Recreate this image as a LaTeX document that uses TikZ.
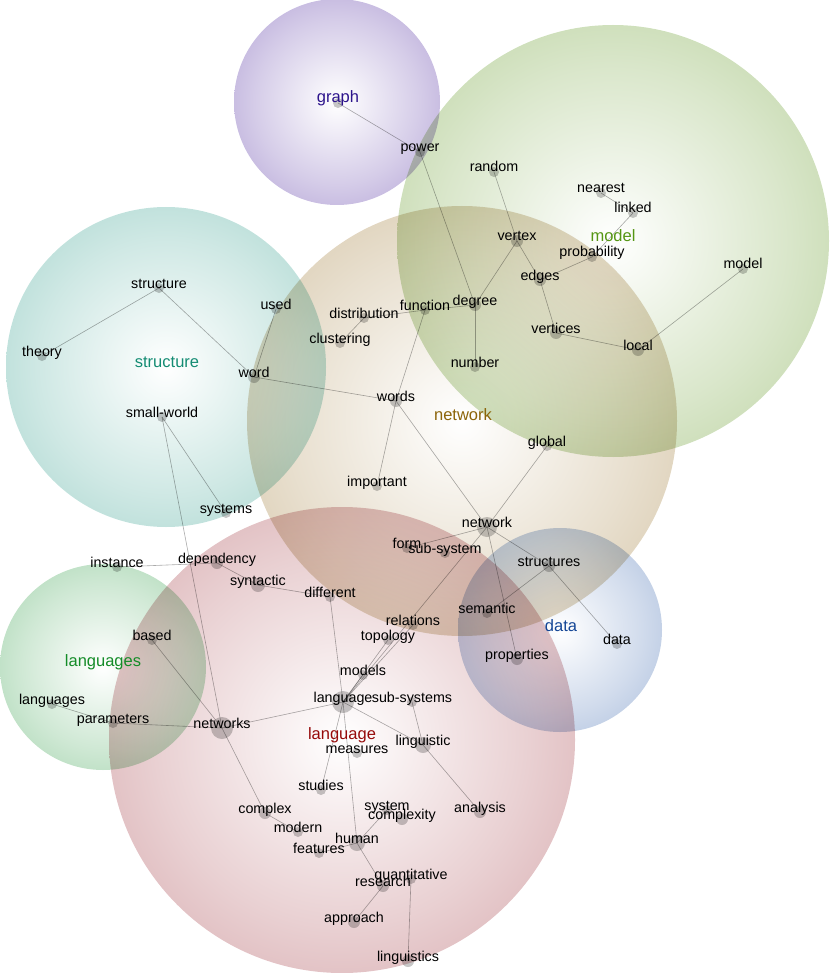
\documentclass[tikz,border=0pt]{standalone}
\usepackage{fontspec}
\setmainfont{Liberation Sans}
\definecolor{cgraph}{RGB}{150,128,198}
\definecolor{cmodel}{RGB}{162,194,125}
\definecolor{cstruct}{RGB}{135,198,188}
\definecolor{cnet}{RGB}{198,176,135}
\definecolor{cdata}{RGB}{140,166,208}
\definecolor{clangs}{RGB}{135,198,148}
\definecolor{clang}{RGB}{200,138,143}
\definecolor{tgraph}{RGB}{45,20,140}
\definecolor{tmodel}{RGB}{85,150,20}
\definecolor{tstruct}{RGB}{20,140,115}
\definecolor{tnet}{RGB}{140,100,10}
\definecolor{tdata}{RGB}{20,70,150}
\definecolor{tlangs}{RGB}{20,140,40}
\definecolor{tlang}{RGB}{150,10,10}
\pgfdeclareradialshading{shgraph}{\pgfpoint{0bp}{0bp}}{color(0bp)=(white); color(20bp)=(cgraph!40!white); color(40bp)=(cgraph!85!white); color(50bp)=(cgraph)}
\pgfdeclareradialshading{shmodel}{\pgfpoint{0bp}{0bp}}{color(0bp)=(white); color(20bp)=(cmodel!40!white); color(40bp)=(cmodel!85!white); color(50bp)=(cmodel)}
\pgfdeclareradialshading{shstruct}{\pgfpoint{0bp}{0bp}}{color(0bp)=(white); color(20bp)=(cstruct!40!white); color(40bp)=(cstruct!85!white); color(50bp)=(cstruct)}
\pgfdeclareradialshading{shnet}{\pgfpoint{0bp}{0bp}}{color(0bp)=(white); color(20bp)=(cnet!40!white); color(40bp)=(cnet!85!white); color(50bp)=(cnet)}
\pgfdeclareradialshading{shdata}{\pgfpoint{0bp}{0bp}}{color(0bp)=(white); color(20bp)=(cdata!40!white); color(40bp)=(cdata!85!white); color(50bp)=(cdata)}
\pgfdeclareradialshading{shlangs}{\pgfpoint{0bp}{0bp}}{color(0bp)=(white); color(20bp)=(clangs!40!white); color(40bp)=(clangs!85!white); color(50bp)=(clangs)}
\pgfdeclareradialshading{shlang}{\pgfpoint{0bp}{0bp}}{color(0bp)=(white); color(20bp)=(clang!40!white); color(40bp)=(clang!85!white); color(50bp)=(clang)}
\tikzset{
  blob/.style={blend mode=multiply},
  edge/.style={draw=black, draw opacity=0.33, line width=0.6pt},
  dot/.style={circle, inner sep=0pt, fill=black, fill opacity=0.22, draw=none},
  wl/.style={anchor=base, inner sep=0pt, text=black, font=\fontsize{14.3}{16}\selectfont},
  cat/.style={anchor=center, inner sep=0pt, font=\fontsize{16.5}{18}\selectfont}
}
\begin{document}
\begin{tikzpicture}[x=1pt,y=-1pt]
\useasboundingbox (0,0) rectangle (829,973);
% circles
\shade[blob, shading=shgraph] (337,102) circle [radius=103pt];
\shade[blob, shading=shmodel] (613,241) circle [radius=216pt];
\shade[blob, shading=shstruct] (166,367) circle [radius=160pt];
\shade[blob, shading=shnet] (462,421) circle [radius=215pt];
\shade[blob, shading=shdata] (560,630) circle [radius=102pt];
\shade[blob, shading=shlangs] (103,667) circle [radius=103pt];
\shade[blob, shading=shlang] (342,740) circle [radius=233pt];
% positions
\coordinate (graph) at (338,103);
\foreach \n/\x/\y/\r/\t in {
power/420/152/5/power, random/494/172/5/random, nearest/601/193/5/nearest,
linked/633/213/5/linked, vertex/517/241/6/vertex, probability/592/257/5/probability,
modelw/743/269/5/model, edges/540/280/6/edges, degree/475/305/6/degree,
function/425/310/5/function, distribution/364/318/5/distribution, clustering/340/343/5/clustering,
vertices/556/333/6/vertices, local/638/350/6/local, number/475/367/5/number,
structurew/159/288/5/structure, theory/42/356/5/theory, used/276/309/5/used,
word/254/377/6/word, words/396/401/6/words, smallworld/162/417/5/small-world,
important/377/486/5/important, systems/226/513/5/systems, global/547/446/5/global,
networkw/487/527/10/network, form/407/548/5/form, subsystem/445/553/5/sub-system,
structures/549/566/6/structures, instance/117/567/5/instance, dependency/217/563/6/dependency,
syntactic/258/585/7/syntactic, different/330/597/5/different, semantic/487/613/5/semantic,
relations/413/625/5/relations, based/152/640/5/based, topology/388/640/5/topology,
dataw/617/644/5/data, properties/517/659/6/properties, models/363/675/5/models,
languagesw/52/704/5/languages, languagew/343/702/11/language, subsystems/412/702/5/sub-systems,
parameters/113/723/5/parameters, networks/222/728/11/networks, linguistic/423/745/8/linguistic,
measures/357/753/5/measures, studies/321/790/5/studies, system/387/810/5/system,
complex/265/813/6/complex, analysis/480/812/6/analysis, complexity/402/819/6/complexity,
modern/298/832/5/modern, human/357/843/8/human, features/319/853/5/features,
quantitative/411/879/5/quantitative, research/383/886/6/research, approach/354/922/6/approach,
linguistics/408/961/6/linguistics}
  {\coordinate (\n) at (\x,\y);}
% connectors
\foreach \a/\b in {graph/power, power/degree, random/vertex, vertex/edges, vertex/degree,
nearest/linked, linked/probability, probability/edges, edges/vertices, vertices/local,
local/modelw, degree/function, function/distribution, distribution/clustering, degree/number,
function/words, structurew/theory, structurew/word, used/word, word/words, words/important,
words/networkw, global/networkw, networkw/form, networkw/structures, structures/dataw,
structures/semantic, networkw/properties, networkw/languagew, relations/languagew,
topology/languagew, models/languagew, smallworld/systems, smallworld/networks,
instance/dependency, dependency/syntactic, syntactic/different, different/languagew,
based/networks, languagesw/parameters, parameters/networks, networks/languagew,
networks/complex, complex/modern, languagew/linguistic, subsystems/linguistic,
linguistic/analysis, languagew/studies, languagew/human, human/system, human/features,
human/research, research/approach, quantitative/linguistics}
  {\draw[edge] (\a) -- (\b);}
% dots
\node[dot, minimum size=10pt] (d-graph) at (graph) {};
\foreach \n/\r in {power/5, random/5, nearest/5, linked/5, vertex/6, probability/5, modelw/5,
edges/6, degree/6, function/5, distribution/5, clustering/5, vertices/6, local/6, number/5,
structurew/5, theory/5, used/5, word/6, words/6, smallworld/5, important/5, systems/5, global/5,
networkw/10, form/5, subsystem/5, structures/6, instance/5, dependency/6, syntactic/7,
different/5, semantic/5, relations/5, based/5, topology/5, dataw/5, properties/6, models/5,
languagesw/5, languagew/11, subsystems/5, parameters/5, networks/11, linguistic/8, measures/5,
studies/5, system/5, complex/6, analysis/6, complexity/6, modern/5, human/8, features/5,
quantitative/5, research/6, approach/6, linguistics/6}
  {\node[dot, minimum size=2*\r pt] (d-\n) at (\n) {};}
% word labels
\foreach \n/\t in {power/power, random/random, nearest/nearest, linked/linked, vertex/vertex,
probability/probability, modelw/model, edges/edges, degree/degree, function/function,
distribution/distribution, clustering/clustering, vertices/vertices, local/local, number/number,
structurew/structure, theory/theory, used/used, word/word, words/words, smallworld/small-world,
important/important, systems/systems, global/global, networkw/network, form/form,
subsystem/sub-system, structures/structures, instance/instance, dependency/dependency,
syntactic/syntactic, different/different, semantic/semantic, relations/relations, based/based,
topology/topology, dataw/data, properties/properties, models/models, languagesw/languages,
languagew/language, subsystems/sub-systems, parameters/parameters, networks/networks,
linguistic/linguistic, measures/measures, studies/studies, system/system, complex/complex,
analysis/analysis, complexity/complexity, modern/modern, human/human, features/features,
quantitative/quantitative, research/research, approach/approach, linguistics/linguistics}
  {\node[wl] (l-\n) at (\n) {\t};}
% category labels
\node[cat, text=tgraph] (c-graph) at (338,98) {graph};
\node[cat, text=tmodel] (c-model) at (613,236) {model};
\node[cat, text=tstruct] (c-struct) at (167,362) {structure};
\node[cat, text=tnet] (c-net) at (463,415) {network};
\node[cat, text=tdata] (c-data) at (561,626) {data};
\node[cat, text=tlangs] (c-langs) at (103,662) {languages};
\node[cat, text=tlang] (c-lang) at (342,735) {language};
\end{tikzpicture}
\end{document}
